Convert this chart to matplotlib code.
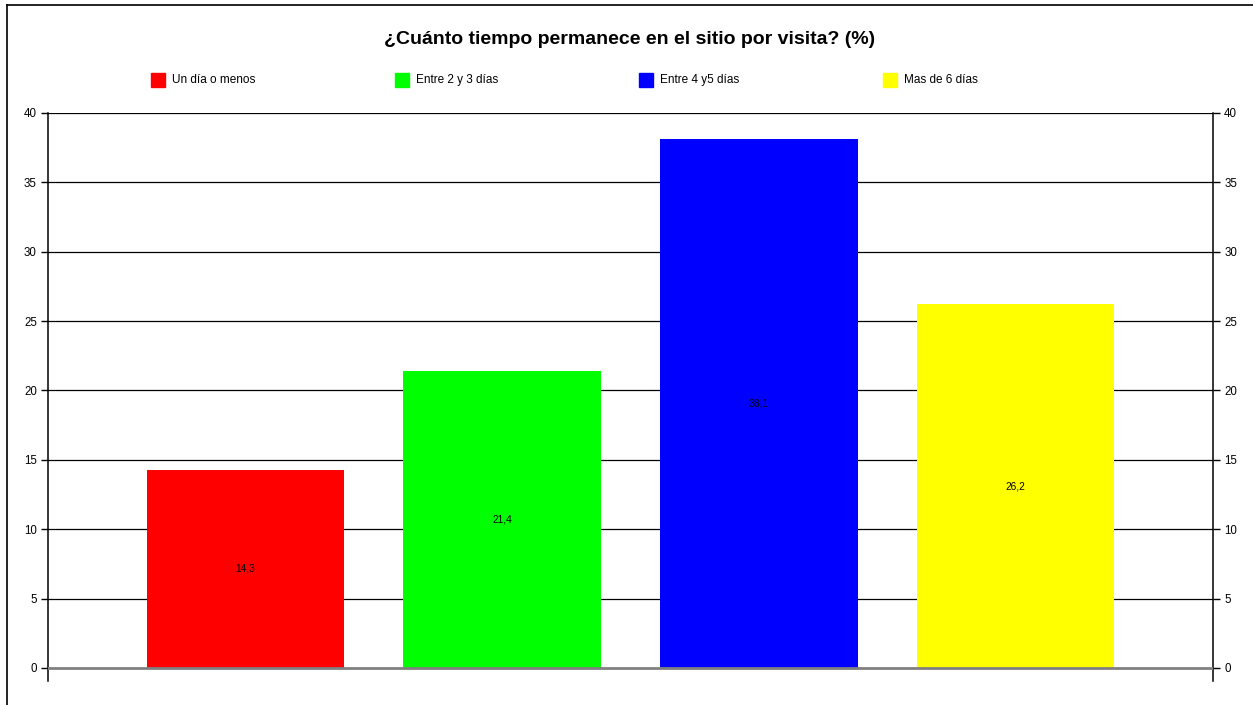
import matplotlib
matplotlib.use("Agg")
import matplotlib.pyplot as plt
from matplotlib.patches import Rectangle
from matplotlib.lines import Line2D

categories = ["Un día o menos", "Entre 2 y 3 días", "Entre 4 y5 días", "Mas de 6 días"]
values = [14.3, 21.4, 38.1, 26.2]
value_labels = ["14,3", "21,4", "38,1", "26,2"]
colors = ["#FF0000", "#00FF00", "#0000FF", "#FFFF00"]
yticks = [0, 5, 10, 15, 20, 25, 30, 35, 40]
title = "¿Cuánto tiempo permanece en el sitio por visita? (%)"

plt.rcParams['font.family'] = ['Liberation Sans', 'DejaVu Sans']

W, H = 1253, 705
fig = plt.figure(figsize=(W / 100, H / 100), dpi=100)

# outer frame (left & top visible)
fig.add_artist(Line2D([7 / W, 7 / W], [0, 1 - 5 / H], color='black', lw=1.2, transform=fig.transFigure))
fig.add_artist(Line2D([7 / W, 1], [1 - 5 / H, 1 - 5 / H], color='black', lw=1.2, transform=fig.transFigure))

left, right, top, bottom_px = 48, 1213, 113, 681
ax = fig.add_axes([left / W, 1 - bottom_px / H, (right - left) / W, (bottom_px - top) / H])

x = list(range(len(values)))
ax.bar(x, values, width=0.77, color=colors, zorder=2)
for xi, v, lab in zip(x, values, value_labels):
    ax.text(xi, v / 2, lab, ha='center', va='center', fontsize=7.3, color='black', zorder=3)

ymin = -13 / 13.875
ax.set_ylim(ymin, 40)
ax.set_xlim(-0.77, 3.77)
ax.set_yticks(yticks)
ax.set_yticklabels([str(t) for t in yticks])
ax.tick_params(axis='y', which='both', left=True, right=True, labelleft=True, labelright=True,
               length=5, width=1, labelsize=8.3, pad=3)
ax.set_xticks([])
for yt in yticks[1:]:
    ax.axhline(yt, color='black', lw=0.9, zorder=1)
ax.axhline(0, color='#808080', lw=2, zorder=3)
ax.spines['top'].set_visible(False)
ax.spines['bottom'].set_visible(False)
ax.spines['left'].set_linewidth(1.1)
ax.spines['right'].set_linewidth(1.1)

fig.text(630 / W, 1 - 40 / H, title, ha='center', va='center', fontsize=14, fontweight='bold')

# legend
leg_x = [151, 395, 639, 883]
for lx, lab, c in zip(leg_x, categories, colors):
    fig.add_artist(Rectangle((lx / W, 1 - 87 / H), 14 / W, 14 / H, color=c, transform=fig.transFigure))
    fig.text((lx + 21) / W, 1 - 80 / H, lab, ha='left', va='center', fontsize=8.5)

fig.savefig("out.png", dpi=100)
